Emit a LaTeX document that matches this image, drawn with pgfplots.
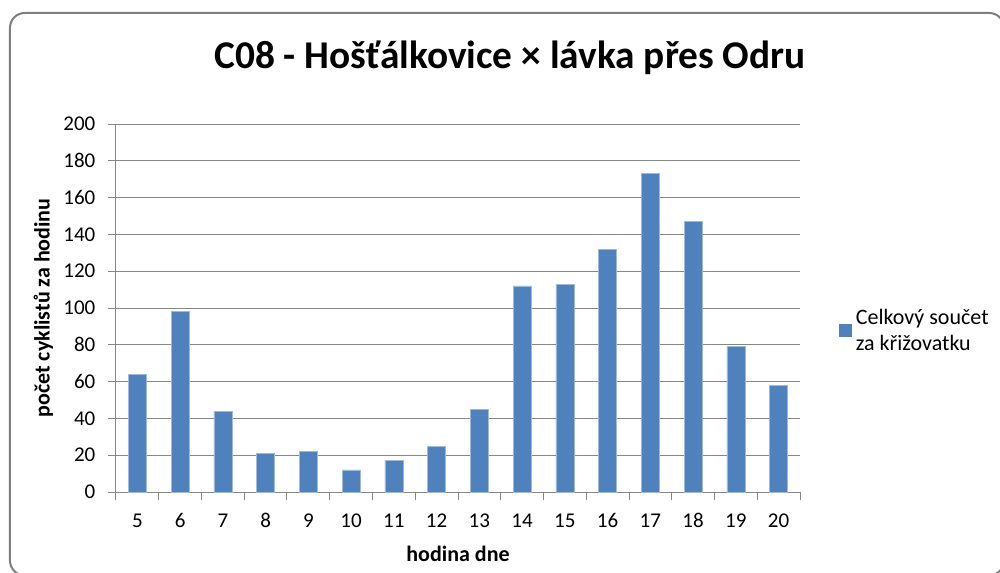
\documentclass[border=0pt]{standalone}
\usepackage{fontspec}
\setmainfont{Carlito}
\usepackage{pgfplots}
\pgfplotsset{compat=1.18}
\definecolor{barblue}{HTML}{4F81BD}
\definecolor{gridgray}{HTML}{878787}
\definecolor{framegray}{HTML}{7F7F7F}
\begin{document}
\begin{tikzpicture}
\path[use as bounding box, fill=white] (-87pt,-60pt) rectangle (663pt,369pt);
\draw[framegray, line width=1.5pt, rounded corners=11pt] (-79.5pt,-62.5pt) rectangle (666pt,359.25pt);
\node[font=\bfseries\fontsize{29.5}{34}\selectfont, anchor=center] at (295.5pt,325.5pt) {C08 - Hošťálkovice × lávka přes Odru};
\begin{axis}[
  at={(0,0)}, anchor=south west,
  scale only axis, width=513pt, height=276pt,
  xmin=4.5, xmax=20.5, ymin=0, ymax=200,
  xtick={5,...,20},
  minor xtick={4.5,5.5,...,20.5},
  ytick={0,20,...,200},
  axis lines*=left,
  axis line style={gridgray, line width=0.75pt, -},
  tick align=outside,
  major tick length=6pt,
  minor tick length=6pt,
  major x tick style={draw=none},
  minor x tick style={gridgray, line width=0.75pt},
  major y tick style={gridgray, line width=0.75pt},
  ymajorgrids,
  major grid style={gridgray, line width=0.75pt},
  /pgf/number format/assume math mode=true,
  tick label style={font=\fontsize{15.75}{18}\selectfont, text=black},
  xticklabel style={anchor=base, yshift=-20.5pt},
  yticklabel style={anchor=base east, yshift=-5pt, xshift=-6pt},
  xlabel={hodina dne},
  ylabel={počet cyklistů za hodinu},
  label style={font=\bfseries\fontsize{16.5}{19}\selectfont},
  xlabel style={at={(axis description cs:0.5,-0.168)}, anchor=center},
  ylabel style={at={(axis description cs:-0.1063,0.5)}, anchor=center},
  legend style={at={(axis description cs:1.056,0.506)}, anchor=north west, draw=none, fill=none, inner sep=0pt,
    font=\fontsize{16.5}{20}\selectfont, cells={align=left, anchor=west}},
  legend image code/.code={\fill[barblue] (0pt,-4.5pt) rectangle (9pt,4.5pt);},
]
\addplot[ybar, bar width=13.5pt, fill=barblue, draw=barblue!55!white, line width=0.5pt] coordinates {
(5,64) (6,98) (7,44) (8,21) (9,22) (10,12) (11,17) (12,25) (13,45) (14,112) (15,113) (16,132) (17,173) (18,147) (19,79) (20,58)
};
\addlegendentry{\hspace{1.5pt}Celkový součet\\\hspace{1.5pt}za křižovatku}
\end{axis}
\end{tikzpicture}
\end{document}
